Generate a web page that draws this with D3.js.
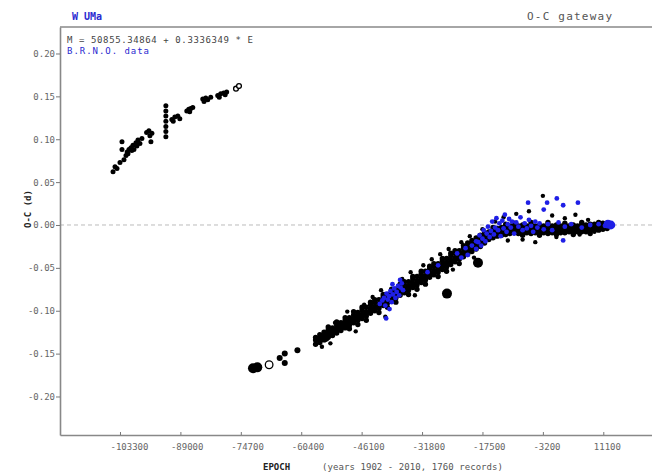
<!DOCTYPE html>
<html>
<head>
<meta charset="utf-8">
<script src="https://cdn.jsdelivr.net/npm/d3@7/dist/d3.min.js"></script>
<style>
  html, body { margin: 0; padding: 0; background: #fff; }
  svg { display: block; }
  text { font-family: "DejaVu Sans Mono", "Liberation Mono", monospace; }
</style>
</head>
<body>
<svg id="chart" width="652" height="472"></svg>
<script>
// ---- axis ticks ----
const xTicks = [-103300, -89000, -74700, -60400, -46100, -31800, -17500, -3200, 11100];
const xTickLabels = ["-103300", "-89000", "-74700", "-60400", "-46100", "-31800", "-17500", "-3200", "11100"];
const yTicks = [0.20, 0.15, 0.10, 0.05, 0.00, -0.05, -0.10, -0.15, -0.20];
const yTickLabels = ["0.20", "0.15", "0.10", "0.05", "0.00", "-0.05", "-0.10", "-0.15", "-0.20"];

// ---- early timings (epoch, O-C) ----
const earlyPoints = [
  [-104950, 0.062], [-104480, 0.068], [-104010, 0.066], [-103300, 0.073], [-102830, 0.097],
  [-102830, 0.088], [-102360, 0.076], [-101880, 0.081], [-101600, 0.085], [-101410, 0.083],
  [-101180, 0.088], [-100700, 0.090], [-100500, 0.087], [-100230, 0.093], [-100000, 0.088],
  [-99520, 0.096], [-99300, 0.092], [-99050, 0.099], [-98580, 0.095], [-98110, 0.101],
  [-97000, 0.108], [-96460, 0.110], [-96220, 0.104], [-95980, 0.097], [-95750, 0.107],
  [-92440, 0.139], [-92440, 0.133], [-92440, 0.127], [-92440, 0.121], [-92440, 0.115],
  [-92440, 0.109], [-92440, 0.103], [-91030, 0.123], [-90700, 0.121], [-90320, 0.126],
  [-89610, 0.127], [-89140, 0.124], [-87490, 0.133], [-87020, 0.135], [-86800, 0.132],
  [-86540, 0.136], [-86070, 0.137], [-83710, 0.147], [-83400, 0.144], [-83000, 0.148],
  [-82530, 0.146], [-81820, 0.149], [-80170, 0.151], [-79800, 0.149], [-79460, 0.153],
  [-78760, 0.154], [-78400, 0.152], [-78050, 0.155]
];
const earlyOpen = [[-75840, 0.159], [-75130, 0.162]];

// ---- large markers (visual / photographic timings) ----
const bigFilled = [[-71820, -0.167], [-70800, -0.166], [-54780, -0.131], [-25900, -0.080], [-18560, -0.044]];
const bigOpen = [[-68000, -0.163]];
const midFilled = [[-65500, -0.155], [-64300, -0.150], [-64300, -0.161], [-61300, -0.146]];

// ---- main band of timings: epoch with the O-C values observed near it ----
const bandRows = [
  [-57000, [-0.139, -0.134, -0.131]],
  [-56000, [-0.137, -0.132, -0.128, -0.135]],
  [-55000, [-0.134, -0.129, -0.125, -0.131]],
  [-54000, [-0.131, -0.126, -0.122, -0.128, -0.119]],
  [-53000, [-0.129, -0.124, -0.120, -0.126]],
  [-52000, [-0.126, -0.121, -0.117, -0.123, -0.113]],
  [-51000, [-0.123, -0.118, -0.114, -0.120]],
  [-50000, [-0.120, -0.115, -0.111, -0.117, -0.108]],
  [-49000, [-0.117, -0.112, -0.108, -0.114, -0.121]],
  [-48000, [-0.114, -0.109, -0.105, -0.111, -0.101]],
  [-47000, [-0.111, -0.106, -0.102, -0.108, -0.116]],
  [-46000, [-0.109, -0.104, -0.099, -0.106, -0.096]],
  [-45000, [-0.106, -0.101, -0.096, -0.103, -0.111]],
  [-44000, [-0.103, -0.098, -0.093, -0.100, -0.090]],
  [-43000, [-0.100, -0.095, -0.090, -0.097, -0.087]],
  [-42000, [-0.097, -0.092, -0.087, -0.094, -0.102]],
  [-41000, [-0.094, -0.089, -0.084, -0.091, -0.081]],
  [-40000, [-0.091, -0.086, -0.081, -0.088, -0.096]],
  [-39000, [-0.088, -0.083, -0.078, -0.085, -0.075]],
  [-38000, [-0.085, -0.080, -0.075, -0.082, -0.090]],
  [-37000, [-0.082, -0.077, -0.072, -0.079, -0.069]],
  [-36000, [-0.079, -0.074, -0.069, -0.076, -0.066]],
  [-35000, [-0.076, -0.071, -0.066, -0.073, -0.081]],
  [-34000, [-0.073, -0.068, -0.063, -0.070, -0.060]],
  [-33000, [-0.070, -0.065, -0.060, -0.067, -0.075]],
  [-32000, [-0.067, -0.062, -0.057, -0.064, -0.054]],
  [-31000, [-0.064, -0.059, -0.054, -0.061, -0.069]],
  [-30000, [-0.061, -0.056, -0.051, -0.058, -0.048]],
  [-29000, [-0.058, -0.053, -0.048, -0.055, -0.045]],
  [-28000, [-0.055, -0.050, -0.045, -0.052, -0.060]],
  [-27000, [-0.052, -0.047, -0.042, -0.049, -0.039]],
  [-26000, [-0.049, -0.044, -0.039, -0.046, -0.054]],
  [-25000, [-0.046, -0.041, -0.036, -0.043, -0.033]],
  [-24000, [-0.043, -0.038, -0.033, -0.040, -0.030]],
  [-23000, [-0.040, -0.035, -0.030, -0.037, -0.045]],
  [-22000, [-0.037, -0.032, -0.027, -0.034, -0.024]],
  [-21000, [-0.034, -0.029, -0.024, -0.031, -0.021]],
  [-20000, [-0.031, -0.026, -0.021, -0.028, -0.018]],
  [-19000, [-0.028, -0.023, -0.018, -0.025, -0.015]],
  [-18000, [-0.025, -0.020, -0.015, -0.022, -0.012]],
  [-17000, [-0.021, -0.016, -0.011, -0.018, -0.009]],
  [-16000, [-0.017, -0.012, -0.008, -0.014]],
  [-15000, [-0.015, -0.010, -0.006, -0.012, -0.003]],
  [-14000, [-0.013, -0.008, -0.004, -0.010]],
  [-13000, [-0.012, -0.007, -0.003, -0.009]],
  [-12000, [-0.011, -0.006, -0.002, -0.008, 0.001]],
  [-11000, [-0.010, -0.005, -0.001, -0.007]],
  [-10000, [-0.009, -0.004, -0.001, -0.006, 0.002]],
  [-9000, [-0.010, -0.005, -0.001, -0.007]],
  [-8000, [-0.009, -0.004, 0.000, -0.006, -0.012]],
  [-7000, [-0.009, -0.004, -0.001, -0.006]],
  [-6000, [-0.010, -0.005, 0.000, -0.007, 0.003]],
  [-5000, [-0.009, -0.004, -0.001, -0.006]],
  [-4000, [-0.009, -0.004, 0.000, -0.006, -0.012]],
  [-3000, [-0.009, -0.004, -0.001, -0.006]],
  [-2000, [-0.010, -0.005, 0.000, -0.007, 0.003]],
  [-1000, [-0.009, -0.004, -0.001, -0.006]],
  [0, [-0.009, -0.004, 0.000, -0.006, -0.011]],
  [1000, [-0.009, -0.004, -0.001, -0.006]],
  [2000, [-0.009, -0.004, 0.000, -0.007, 0.002]],
  [3000, [-0.008, -0.004, -0.001, -0.006]],
  [4000, [-0.009, -0.004, 0.000, -0.006, -0.011]],
  [5000, [-0.008, -0.003, -0.001, -0.006]],
  [6000, [-0.008, -0.003, 0.000, -0.005, 0.003]],
  [7000, [-0.008, -0.003, 0.000, -0.005]],
  [8000, [-0.007, -0.003, 0.001, -0.005, -0.010]],
  [9000, [-0.006, -0.002, 0.001, -0.004]],
  [10000, [-0.006, -0.002, 0.001, -0.004, 0.003]],
  [11000, [-0.005, -0.001, 0.002, -0.003]],
  [12000, [-0.004, -0.001, 0.002]]
];
const bandStray = [
  [-55500, -0.142], [-53500, -0.138], [-52400, -0.114], [-49500, -0.101], [-47500, -0.124],
  [-45500, -0.093], [-43500, -0.084], [-41500, -0.076], [-40500, -0.107], [-36500, -0.063],
  [-34500, -0.055], [-33500, -0.082], [-31500, -0.047], [-29500, -0.040], [-27500, -0.034],
  [-25500, -0.028], [-24500, -0.052], [-22500, -0.020], [-20500, -0.013], [-19500, -0.038],
  [-17500, -0.005], [-14500, 0.004], [-12500, 0.009], [-9500, 0.013], [-6500, 0.016],
  [-3200, 0.034], [-1000, 0.011], [2000, 0.008], [4500, 0.012], [7500, 0.006],
  [-8000, -0.017], [-5000, -0.020], [0, -0.014], [5500, -0.011], [9000, -0.008], [-11500, -0.018]
];

// ---- B.R.N.O. timings ----
const brnoPoints = [
  [-41800, -0.092], [-41200, -0.088], [-40800, -0.085], [-40500, -0.094], [-40200, -0.080],
  [-39900, -0.087], [-39600, -0.083], [-39300, -0.077], [-39000, -0.090], [-38700, -0.081],
  [-38400, -0.074], [-38100, -0.085], [-37800, -0.078], [-37500, -0.071], [-37200, -0.082],
  [-36900, -0.073], [-36600, -0.068], [-36300, -0.076], [-40300, -0.109], [-39500, -0.098],
  [-38800, -0.069], [-37000, -0.064],
  [-30500, -0.055], [-28000, -0.047], [-23500, -0.033], [-22500, -0.038], [-21500, -0.027],
  [-21000, -0.035], [-20000, -0.024], [-19000, -0.019],
  [-19000, -0.028], [-18500, -0.020], [-18200, -0.012], [-17800, -0.024], [-17500, -0.016],
  [-17200, -0.006], [-16800, -0.019], [-16500, -0.010], [-16200, -0.002], [-15800, -0.014],
  [-15500, -0.007], [-15200, 0.004], [-14800, -0.011], [-14500, -0.003], [-14200, 0.008],
  [-13800, -0.006], [-13500, 0.002], [-13200, -0.013], [-12800, 0.005], [-12500, -0.004],
  [-12200, 0.012], [-11800, -0.008], [-11500, 0.001], [-11200, 0.007], [-10800, -0.003],
  [-10500, 0.004], [-10000, -0.010], [-9500, 0.003], [-9000, -0.002], [-8500, 0.009],
  [-8000, -0.006], [-7500, 0.002], [-7000, -0.004], [-6500, 0.006], [-6000, -0.001],
  [-5500, -0.008], [-5000, 0.004], [-4500, -0.003], [-4000, 0.002], [-3000, -0.005],
  [-2000, 0.001], [-1000, -0.006], [500, 0.003], [2000, -0.002], [3500, 0.001],
  [6000, -0.003], [8000, 0.000], [10000, 0.001], [11500, -0.001],
  [-6700, 0.026], [-2200, 0.026], [100, 0.031], [1600, 0.023], [5100, 0.026],
  [1600, -0.018], [-3000, 0.018]
];
const brnoBig = [[12200, 0.001], [12900, 0.000]];

// ---- layout ----
const svg = d3.select("#chart");
const plotLeft = 60, plotRight = 652, plotTop = 27, plotBottom = 435;

const x = d3.scaleLinear().domain([-117500, 22630]).range([plotLeft, plotRight]);
const y = d3.scaleLinear().domain([-0.2449, 0.2309]).range([plotBottom, plotTop]);

svg.append("rect").attr("width", 652).attr("height", 472).attr("fill", "#fff");

// zero reference line
svg.append("line")
  .attr("x1", plotLeft).attr("x2", plotRight)
  .attr("y1", y(0)).attr("y2", y(0))
  .attr("stroke", "#bbb").attr("stroke-width", 1)
  .attr("stroke-dasharray", "4,3");

// top frame line
svg.append("line")
  .attr("x1", plotLeft).attr("x2", plotRight)
  .attr("y1", plotTop).attr("y2", plotTop)
  .attr("stroke", "#888").attr("stroke-width", 1.6);

// axes
const yAxis = d3.axisLeft(y)
  .tickValues(yTicks)
  .tickFormat((d, i) => yTickLabels[i])
  .tickSizeInner(4).tickSizeOuter(0).tickPadding(1);
const gy = svg.append("g").attr("transform", `translate(${plotLeft},0)`).call(yAxis);

const xAxis = d3.axisBottom(x)
  .tickValues(xTicks)
  .tickFormat((d, i) => xTickLabels[i])
  .tickSizeInner(-3).tickSizeOuter(0).tickPadding(9);
const gx = svg.append("g").attr("transform", `translate(0,${plotBottom})`).call(xAxis);

[gx, gy].forEach(g => {
  g.select(".domain").attr("stroke", "#888").attr("stroke-width", 1.6);
  g.selectAll(".tick line").attr("stroke", "#777");
  g.selectAll(".tick text")
    .attr("fill", "#666")
    .style("font-family", "'DejaVu Sans Mono', monospace")
    .style("font-size", "9px");
});
gx.selectAll(".tick text").attr("text-anchor", "start").attr("x", -10);

// plotted timings
const dots = svg.append("g");
const bandPoints = bandRows.flatMap(([e, vals]) => vals.map(v => [e, v]));

function drawDots(data, r, color) {
  dots.append("g").selectAll("circle").data(data).join("circle")
    .attr("cx", d => x(d[0])).attr("cy", d => y(d[1]))
    .attr("r", r).attr("fill", color);
}

drawDots(earlyPoints, 2.5, "#000");
drawDots(bandPoints, 2.7, "#000");
drawDots(bandStray, 2.2, "#000");
drawDots(midFilled, 3.0, "#000");
drawDots(bigFilled, 5.0, "#000");
drawDots(brnoPoints, 2.4, "#1f1fe6");
drawDots(brnoBig, 4.4, "#1f1fe6");

dots.append("g").selectAll("circle").data(earlyOpen.concat(bigOpen)).join("circle")
  .attr("cx", d => x(d[0])).attr("cy", d => y(d[1]))
  .attr("r", (d, i) => i < earlyOpen.length ? 2.4 : 3.8)
  .attr("fill", "#fff").attr("stroke", "#000").attr("stroke-width", 1.3);

// titles and notes
svg.append("text").attr("x", 72).attr("y", 20)
  .attr("fill", "#2a2ad0").style("font-size", "10px").style("font-weight", "bold")
  .text("W UMa");
svg.append("text").attr("x", 527).attr("y", 20)
  .attr("fill", "#555").style("font-size", "11px")
  .attr("textLength", 85).attr("lengthAdjust", "spacing")
  .text("O-C gateway");
svg.append("text").attr("x", 67).attr("y", 43)
  .attr("fill", "#444").style("font-size", "9px")
  .attr("textLength", 186).attr("lengthAdjust", "spacing")
  .text("M = 50855.34864 + 0.3336349 * E");
svg.append("text").attr("x", 67).attr("y", 54)
  .attr("fill", "#2a2ad0").style("font-size", "9px")
  .attr("textLength", 82).attr("lengthAdjust", "spacing")
  .text("B.R.N.O. data");

// axis titles
svg.append("text")
  .attr("transform", "translate(31,209) rotate(-90)")
  .attr("text-anchor", "middle")
  .attr("fill", "#222").style("font-size", "9px").style("font-weight", "bold")
  .text("O-C (d)");
svg.append("text").attr("x", 263).attr("y", 470)
  .attr("fill", "#222").style("font-size", "9px").style("font-weight", "bold")
  .text("EPOCH");
svg.append("text").attr("x", 322).attr("y", 470)
  .attr("fill", "#555").style("font-size", "9px")
  .attr("textLength", 181).attr("lengthAdjust", "spacing")
  .text("(years 1902 - 2010, 1760 records)");
</script>
</body>
</html>
